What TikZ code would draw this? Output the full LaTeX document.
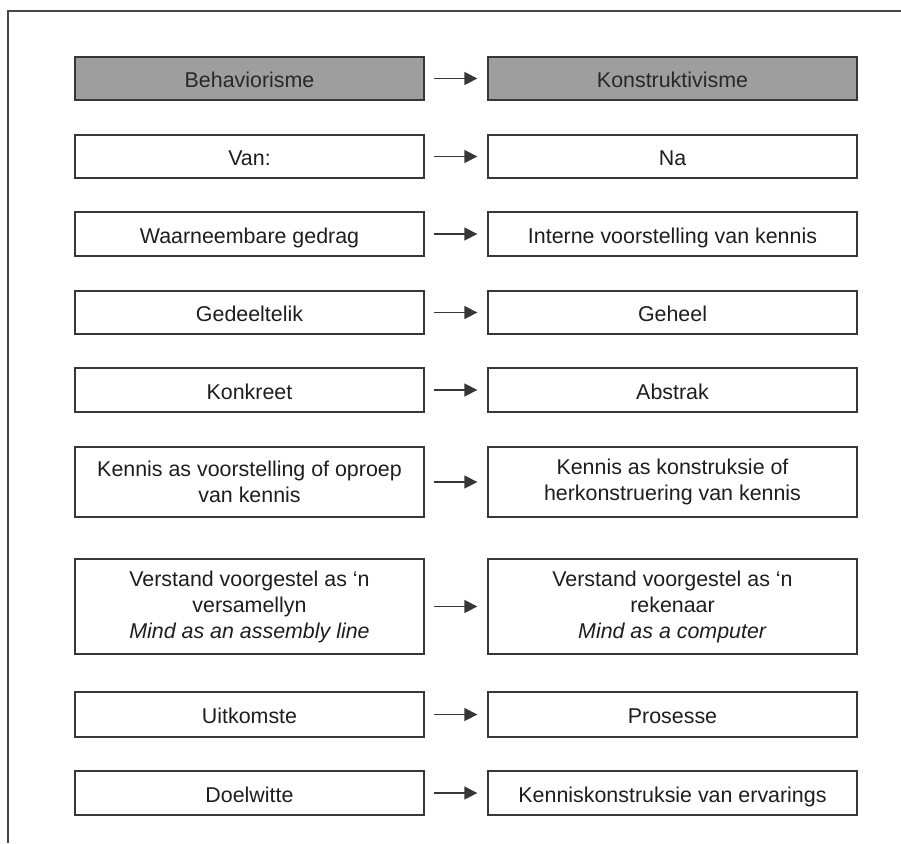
\documentclass[tikz,border=0pt]{standalone}
\usepackage{fontspec}
\setmainfont{Liberation Sans}
\usetikzlibrary{arrows.meta}
\definecolor{inkline}{RGB}{55,55,55}
\definecolor{inktext}{RGB}{30,30,30}
\definecolor{headfill}{RGB}{158,158,158}
\definecolor{framecol}{RGB}{70,70,70}
\tikzset{
  cell/.style={draw=inkline, line width=1.3pt, fill=white, text=inktext,
    align=center, inner sep=0pt,
    font=\fontsize{21.4}{26}\selectfont},
  oneline/.style={text height=18pt, text depth=0pt},
  leftcell/.style={cell, minimum width=349pt},
  rightcell/.style={cell, minimum width=369pt},
  headcell/.style={fill=headfill, text={rgb,255:red,40;green,40;blue,40}},
  link/.style={draw=inkline, line width=1.4pt, shorten <=9pt, shorten >=10pt,
    -{Triangle[length=13pt,width=13pt]}}
}
\begin{document}
\begin{tikzpicture}[x=1pt,y=-1pt]
  \useasboundingbox (0,0) rectangle (901,843);
  % frame: top and left rules
  \draw[framecol, line width=1.5pt] (901,11) -- (8,11) -- (8,843);

  % left column
  \node[leftcell, oneline, headcell, minimum height=43pt] (L1) at (249.5,78.5) {Behaviorisme};
  \node[leftcell, oneline, minimum height=43pt] (L2) at (249.5,156.5) {Van:};
  \node[leftcell, oneline, minimum height=44pt] (L3) at (249.5,234) {Waarneembare gedrag};
  \node[leftcell, oneline, minimum height=43pt] (L4) at (249.5,312.5) {Gedeeltelik};
  \node[leftcell, oneline, minimum height=44pt] (L5) at (249.5,390) {Konkreet};
  \node[leftcell, minimum height=70pt] (L6) at (249.5,482) {Kennis as voorstelling of oproep\\van kennis};
  \node[leftcell, minimum height=95pt] (L7) at (249.5,606.5) {Verstand voorgestel as ‘n\\versamellyn\\\textit{Mind as an assembly line}};
  \node[leftcell, oneline, minimum height=45pt] (L8) at (249.5,714.5) {Uitkomste};
  \node[leftcell, oneline, minimum height=44pt] (L9) at (249.5,793) {Doelwitte};

  % right column
  \node[rightcell, oneline, headcell, minimum height=43pt] (R1) at (672.5,78.5) {Konstruktivisme};
  \node[rightcell, oneline, minimum height=43pt] (R2) at (672.5,156.5) {Na};
  \node[rightcell, oneline, minimum height=44pt] (R3) at (672.5,234) {Interne voorstelling van kennis};
  \node[rightcell, oneline, minimum height=43pt] (R4) at (672.5,312.5) {Geheel};
  \node[rightcell, oneline, minimum height=44pt] (R5) at (672.5,390) {Abstrak};
  \node[rightcell, minimum height=70pt] (R6) at (672.5,482) {Kennis as konstruksie of\\herkonstruering van kennis};
  \node[rightcell, minimum height=95pt] (R7) at (672.5,606.5) {Verstand voorgestel as ‘n\\rekenaar\\\textit{Mind as a computer}};
  \node[rightcell, oneline, minimum height=45pt] (R8) at (672.5,714.5) {Prosesse};
  \node[rightcell, oneline, minimum height=44pt] (R9) at (672.5,793) {Kenniskonstruksie van ervarings};

  % arrows between the columns
  \foreach \i in {1,...,9} {
    \draw[link] (L\i.east) -- (R\i.west);
  }
\end{tikzpicture}
\end{document}
